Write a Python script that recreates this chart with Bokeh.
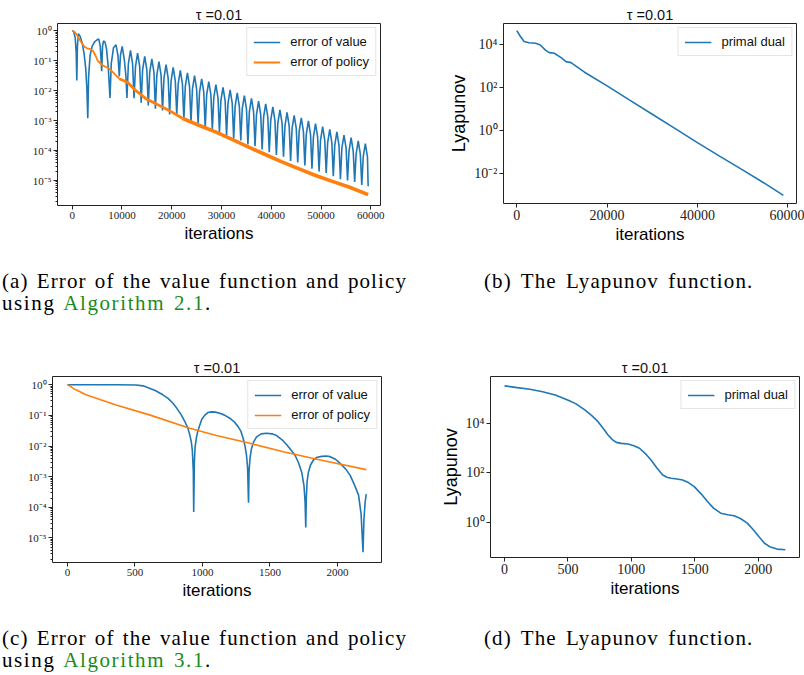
from bokeh.plotting import figure
from bokeh.models import FixedTicker, Div, Legend, LegendItem
from bokeh.layouts import column, row
from bokeh.embed import file_html
from bokeh.resources import INLINE

# ---------------- data ----------------
# (a) Algorithm 2.1, error of value
A_VAL_X = [0, 300, 600, 800, 930, 1050, 1250, 1600, 2000, 2400, 2700, 2950, 3130,
           3300, 3600, 4000, 4500, 5000, 5350, 5650, 5930, 6100, 6300, 6600, 6900,
           7250, 7600, 7850, 8300, 8800, 9200, 9470, 9700, 10050, 10500, 10800,
           11000, 11290, 11715, 12140,
           12430, 12720, 13145, 13570,
           13860, 14150, 14575, 15000,
           15290, 15580, 16005, 16430,
           16720, 17010, 17435, 17860,
           18150, 18440, 18865, 19290,
           19580, 19870, 20295, 20720,
           21010, 21300, 21725, 22150,
           22440, 22730, 23155, 23580,
           23870, 24160, 24585, 25010,
           25300, 25590, 26015, 26440,
           26730, 27020, 27445, 27870,
           28160, 28450, 28875, 29300,
           29590, 29880, 30305, 30730,
           31020, 31310, 31735, 32160,
           32450, 32740, 33165, 33590,
           33880, 34170, 34595, 35020,
           35310, 35600, 36025, 36450,
           36740, 37030, 37455, 37880,
           38170, 38460, 38885, 39310,
           39600, 39890, 40315, 40740,
           41030, 41320, 41745, 42170,
           42460, 42750, 43175, 43600,
           43890, 44180, 44605, 45030,
           45320, 45610, 46035, 46460,
           46750, 47040, 47465, 47890,
           48180, 48470, 48895, 49320,
           49610, 49900, 50325, 50750,
           51040, 51330, 51755, 52180,
           52470, 52760, 53185, 53610,
           53900, 54190, 54615, 55040,
           55330, 55620, 56045, 56470,
           56760, 57050, 57475, 57900,
           58190, 58480, 58905, 59330,
           59470]
A_VAL_Y = [1.0, 0.95, 0.6, 0.2, 0.022, 0.3, 0.8, 0.65, 0.4, 0.17, 0.06, 0.012, 1.2e-3,
           0.03, 0.15, 0.3, 0.43, 0.5, 0.53, 0.3, 0.045, 0.3, 0.46, 0.42, 0.25,
           0.06, 5.7e-3, 0.08, 0.27, 0.34, 0.15, 0.03, 0.15, 0.3, 0.1, 0.03,
           5.7e-3, 7.8e-2, 2.2e-1, 7.8e-2,
           5.6e-3, 6.3e-2, 1.8e-1, 6.3e-2,
           4.0e-3, 5.0e-2, 1.4e-1, 5.0e-2,
           3.2e-3, 4.1e-2, 1.15e-1, 4.1e-2,
           2.5e-3, 3.3e-2, 9.3e-2, 3.3e-2,
           2.2e-3, 2.6e-2, 7.4e-2, 2.6e-2,
           1.6e-3, 2.1e-2, 6.0e-2, 2.1e-2,
           1.6e-3, 1.7e-2, 4.8e-2, 1.7e-2,
           1.1e-3, 1.4e-2, 3.9e-2, 1.4e-2,
           8.9e-4, 1.1e-2, 3.2e-2, 1.1e-2,
           7.9e-4, 8.9e-3, 2.5e-2, 8.9e-3,
           5.6e-4, 7.2e-3, 2.0e-2, 7.2e-3,
           5.0e-4, 5.8e-3, 1.6e-2, 5.8e-3,
           4.0e-4, 4.7e-3, 1.3e-2, 4.7e-3,
           3.2e-4, 3.8e-3, 1.07e-2, 3.8e-3,
           2.5e-4, 3.0e-3, 8.5e-3, 3.0e-3,
           2.2e-4, 2.45e-3, 6.9e-3, 2.45e-3,
           1.6e-4, 1.95e-3, 5.5e-3, 1.95e-3,
           1.4e-4, 1.6e-3, 4.5e-3, 1.6e-3,
           1.1e-4, 1.3e-3, 3.6e-3, 1.3e-3,
           8.9e-5, 1.0e-3, 2.9e-3, 1.0e-3,
           7.1e-5, 8.3e-4, 2.3e-3, 8.3e-4,
           6.3e-5, 6.6e-4, 1.9e-3, 6.6e-4,
           4.5e-5, 5.4e-4, 1.5e-3, 5.4e-4,
           4.0e-5, 4.4e-4, 1.23e-3, 4.4e-4,
           3.2e-5, 3.5e-4, 9.8e-4, 3.5e-4,
           2.5e-5, 2.8e-4, 7.9e-4, 2.8e-4,
           2.0e-5, 2.2e-4, 6.3e-4, 2.2e-4,
           1.8e-5, 1.8e-4, 5.1e-4, 1.8e-4,
           1.4e-5, 1.5e-4, 4.2e-4, 1.5e-4,
           1.1e-5, 1.2e-4, 3.3e-4, 1.2e-4,
           1.0e-5, 9.5e-5, 2.7e-4, 9.5e-5,
           8.9e-6, 7.6e-5, 2.1e-4, 7.6e-5,
           7.1e-6, 6.2e-5, 1.7e-4, 6.2e-5,
           6.5e-6]

# (a) Algorithm 2.1, error of policy: smooth start, then an increasingly noisy band
A_POL_X = [0, 400, 800, 1300, 1800, 2470, 3000, 3470, 4130, 4670, 5130, 6130,
           7470, 8470, 9470]
A_POL_Y = [1.0, 0.93, 0.79, 0.58, 0.42, 0.29, 0.26, 0.25, 0.22, 0.15, 0.10, 0.07,
           0.054, 0.037, 0.025]
A_POL_MID_X = [9470, 11130, 12800, 14800, 16800, 19470, 22130]
A_POL_MID_Y = [0.025, 0.019, 0.010, 5.4e-3, 3.7e-3, 2.2e-3, 1.2e-3]
A_POL_NOISY_X = [22130, 25470, 28800, 32000, 35470, 38800, 42130, 45470, 48800,
                 52130, 55470, 59470]
A_POL_NOISY_Y = [1.2e-3, 7e-4, 4.2e-4, 2.4e-4, 1.3e-4, 7.4e-5, 4.2e-5, 2.5e-5,
                 1.5e-5, 9.6e-6, 6.2e-6, 3.4e-6]

# (b) Lyapunov function, Algorithm 2.1
B_X = [0, 700, 1600, 2700, 4200, 5200, 6400, 7200, 8300, 9800, 10900, 12000,
       15000, 20000, 25000, 30000, 35000, 40000, 45000, 50000, 55000, 59040]
B_Y = [4.3e4, 2.5e4, 1.35e4, 1.17e4, 1.12e4, 9.3e3, 5.2e3, 4.1e3, 3.8e3, 2.4e3,
       1.55e3, 1.4e3, 5.0e2, 1.15e2, 25.0, 5.5, 1.2, 0.26, 0.06, 0.014, 3.2e-3, 9.1e-4]

# (c) Algorithm 3.1, error of value
C_VAL_X = [0, 360, 508, 560, 607, 650, 706, 745, 781, 810, 843, 870, 892, 905, 917,
           925, 932, 935, 940, 945, 955, 965, 979, 995, 1016, 1040, 1066, 1095,
           1128, 1160, 1202, 1235, 1264, 1285, 1301, 1315, 1326, 1334, 1341,
           1345, 1352, 1363, 1380, 1401, 1435, 1475, 1515, 1549, 1590, 1624, 1660,
           1686, 1712, 1735, 1752, 1760, 1765,
           1769, 1775, 1785, 1800, 1822, 1850, 1884, 1915, 1946, 1985, 2020, 2060,
           2094, 2125, 2156, 2175, 2189, 2196, 2205, 2213]
C_VAL_Y = [1.0, 1.0, 0.98, 0.92, 0.77, 0.65, 0.47, 0.36, 0.25, 0.17, 0.104, 0.062,
           0.038, 0.024, 0.014, 7e-3, 1.5e-3, 7.0e-5, 3e-3, 9e-3, 0.019, 0.03, 0.047,
           0.075, 0.1, 0.124, 0.13, 0.128, 0.117, 0.104, 0.081, 0.062, 0.043, 0.03,
           0.018, 0.01, 5e-3, 2e-3, 1.4e-4,
           1.5e-3, 4e-3, 8.3e-3, 0.014, 0.02, 0.025, 0.026, 0.025, 0.022, 0.016,
           0.011, 7e-3, 5e-3, 2.8e-3, 1.4e-3, 5e-4, 1.5e-4, 2.2e-5,
           2e-4, 7e-4, 1.4e-3, 2.4e-3, 3.5e-3, 4.3e-3, 4.6e-3, 4.7e-3, 4.5e-3,
           3.7e-3, 2.7e-3, 1.8e-3, 1.1e-3, 5.5e-4, 2.5e-4, 6e-5, 3.4e-6, 4e-5,
           1.5e-4, 2.7e-4]
# (c) Algorithm 3.1, error of policy
C_POL_X = [0, 20, 50, 70, 137, 360, 607, 905, 1103, 1351, 1599, 1847, 2213]
C_POL_Y = [1.0, 0.9, 0.72, 0.66, 0.47, 0.22, 0.104, 0.038, 0.022, 0.0123, 6.5e-3,
           3.7e-3, 1.7e-3]

# (d) Lyapunov function, Algorithm 3.1
D_X = [0, 100, 200, 300, 400, 502, 560, 633, 690, 737, 780, 816, 850, 881, 920,
       973, 1020, 1064, 1110, 1155, 1200, 1247, 1280, 1313, 1360, 1404, 1450, 1496,
       1550, 1600, 1650, 1705, 1760, 1809, 1860, 1914, 1960, 2005, 2050, 2097,
       2149, 2214]
D_Y = [3.3e5, 2.8e5, 2.4e5, 1.9e5, 1.4e5, 8.7e4, 6.3e4, 3.5e4, 2.0e4, 1.17e4,
       6.0e3, 3.4e3, 2.2e3, 1.7e3, 1.55e3, 1.45e3, 1.25e3, 9.8e2, 6.0e2, 3.3e2,
       1.6e2, 81.0, 66.0, 60.0, 56.0, 51.0, 40.0, 27.5, 14.0, 6.9, 3.6, 2.3, 2.0,
       1.8, 1.4, 0.91, 0.5, 0.26, 0.14, 0.098, 0.081, 0.076]

X_TICKS_A = [0, 10000, 20000, 30000, 40000, 50000, 60000]
X_TICKS_B = [0, 20000, 40000, 60000]
X_TICKS_CD = [0, 500, 1000, 1500, 2000]
Y_TICKS_AC = [1e0, 1e-1, 1e-2, 1e-3, 1e-4, 1e-5]
Y_LABELS_AC = ["10\u2070", "10\u207b\u00b9", "10\u207b\u00b2", "10\u207b\u00b3",
               "10\u207b\u2074", "10\u207b\u2075"]
Y_TICKS_B = [1e4, 1e2, 1e0, 1e-2]
Y_LABELS_B = ["10\u2074", "10\u00b2", "10\u2070", "10\u207b\u00b2"]
Y_TICKS_D = [1e4, 1e2, 1e0]
Y_LABELS_D = ["10\u2074", "10\u00b2", "10\u2070"]

TITLE = "\u03c4 =0.01"
BLUE = "#1f77b4"
ORANGE = "#ff7f0e"
SANS = "Liberation Sans"
SERIF = "Liberation Serif"

MINOR_AC = [m * 10.0 ** e for e in range(-6, 1) for m in range(2, 10)]


def make_fig(xr, yr, fw, fh, mb, xticks, yticks, ylabels, minor, tick_fs, ylabel=None):
    p = figure(x_range=xr, y_range=yr, y_axis_type="log",
               frame_width=fw, frame_height=fh,
               min_border_left=mb[0], min_border_right=mb[1],
               min_border_top=mb[2], min_border_bottom=mb[3],
               output_backend="svg", toolbar_location=None, title=TITLE)
    p.title.text_font = SANS
    p.title.text_font_size = "14.5px"
    p.title.text_font_style = "normal"
    p.title.align = "center"
    p.title.standoff = 1
    p.title.text_color = "#111111"
    p.grid.visible = False
    p.outline_line_color = "#222222"
    p.outline_line_width = 1
    p.outline_line_alpha = 1
    p.background_fill_color = "white"
    p.border_fill_color = "white"

    xa = p.xaxis[0]
    xa.ticker = FixedTicker(ticks=xticks)
    xa.major_label_overrides = {t: str(t) for t in xticks}
    ya = p.yaxis[0]
    ya.ticker = FixedTicker(ticks=yticks, minor_ticks=minor)
    ya.major_label_overrides = dict(zip(yticks, ylabels))
    for ax in (xa, ya):
        ax.axis_line_color = None
        ax.major_tick_in = 0
        ax.major_tick_out = 4
        ax.minor_tick_in = 0
        ax.minor_tick_out = 2
        ax.major_tick_line_color = "#222222"
        ax.minor_tick_line_color = "#222222"
        ax.major_label_text_font = SERIF
        ax.major_label_text_font_size = tick_fs
        ax.major_label_text_color = "#222222"
        ax.major_label_standoff = 2
        ax.axis_label_text_font = SANS
        ax.axis_label_text_font_style = "normal"
        ax.axis_label_text_color = "#000000"
        ax.axis_label_standoff = 2
    xa.minor_tick_out = 0
    xa.axis_label = "iterations"
    xa.axis_label_text_font_size = "17px"
    if ylabel:
        ya.axis_label = ylabel
        ya.axis_label_text_font_size = "18px"
    return p


def add_legend(p, items):
    leg = Legend(items=items, location="top_right")
    leg.label_text_font = SANS
    leg.label_text_font_size = "13px"
    leg.label_text_color = "#111111"
    leg.glyph_width = 27
    leg.glyph_height = 14
    leg.label_height = 14
    leg.label_standoff = 10
    leg.spacing = 5
    leg.padding = 6
    leg.margin = 4
    leg.border_line_color = "#cccccc"
    leg.border_line_width = 1
    leg.background_fill_alpha = 0.9
    p.add_layout(leg)


# ---------------- (a) ----------------
pa = make_fig((-2950, 61950), (1.47e-6, 1.75), 323, 182, (57, 40, 23, 45),
              X_TICKS_A, Y_TICKS_AC, Y_LABELS_AC, MINOR_AC, "11px")
ra1 = pa.line(A_VAL_X, A_VAL_Y, line_color=BLUE, line_width=1.6)
ra2 = pa.line(A_POL_X, A_POL_Y, line_color=ORANGE, line_width=1.8)
pa.line(A_POL_MID_X, A_POL_MID_Y, line_color=ORANGE, line_width=2.8)
pa.line(A_POL_NOISY_X, A_POL_NOISY_Y, line_color=ORANGE, line_width=3.6)
add_legend(pa, [LegendItem(label="error of value", renderers=[ra1]),
                LegendItem(label="error of policy", renderers=[ra2])])

# ---------------- (b) ----------------
pb = make_fig((-2950, 61950), (3.8e-4, 9.3e4), 293, 180, (83, 8, 21, 49),
              X_TICKS_B, Y_TICKS_B, Y_LABELS_B, [], "14px", ylabel="Lyapunov")
rb = pb.line(B_X, B_Y, line_color=BLUE, line_width=1.6)
add_legend(pb, [LegendItem(label="primal dual", renderers=[rb])])

# ---------------- (c) ----------------
pc = make_fig((-111, 2326), (1.58e-6, 1.86), 329, 186, (52, 39, 46, 43),
              X_TICKS_CD, Y_TICKS_AC, Y_LABELS_AC, MINOR_AC, "11px")
rc1 = pc.line(C_VAL_X, C_VAL_Y, line_color=BLUE, line_width=1.6)
rc2 = pc.line(C_POL_X, C_POL_Y, line_color=ORANGE, line_width=1.6)
add_legend(pc, [LegendItem(label="error of value", renderers=[rc1]),
                LegendItem(label="error of policy", renderers=[rc2])])

# ---------------- (d) ----------------
pd_ = make_fig((-111, 2326), (0.037, 7.9e5), 309, 181, (70, 5, 46, 48),
               X_TICKS_CD, Y_TICKS_D, Y_LABELS_D, [], "14px", ylabel="Lyapunov")
rd = pd_.line(D_X, D_Y, line_color=BLUE, line_width=1.6)
add_legend(pd_, [LegendItem(label="primal dual", renderers=[rd])])

# ---------------- captions ----------------
CAP_STYLE = ("font-family:'Liberation Serif';font-size:21px;line-height:22px;"
             "color:#000;letter-spacing:1.1px;word-spacing:1px;")
GREEN = "#1a8c1a"


def caption_two(tag, alg, pad_top):
    return Div(text=(
        f"<div style=\"{CAP_STYLE}padding-top:{pad_top}px;padding-left:2px;\">"
        f"<div style='width:405px;text-align:justify;text-align-last:justify;'>"
        f"({tag}) Error of the value function and policy</div>"
        f"<div style='letter-spacing:1.6px;word-spacing:2px;'>using "
        f"<span style='color:{GREEN}'>Algorithm {alg}</span>.</div></div>"),
        width=420, height=80, margin=0)


def caption_one(tag, pad_top):
    return Div(text=(
        f"<div style=\"{CAP_STYLE}padding-top:{pad_top}px;padding-left:64px;"
        f"word-spacing:3px;\">({tag}) The Lyapunov function.</div>"),
        width=384, height=80, margin=0)


cap_a = caption_two("a", "2.1", 20)
cap_b = caption_one("b", 20)
cap_c = caption_two("c", "3.1", 22)
cap_d = caption_one("d", 22)
cap_c.height = 62
cap_d.height = 62

layout = column(row(pa, pb), row(cap_a, cap_b), row(pc, pd_), row(cap_c, cap_d))

open("out.html", "w").write(file_html(layout, INLINE))
